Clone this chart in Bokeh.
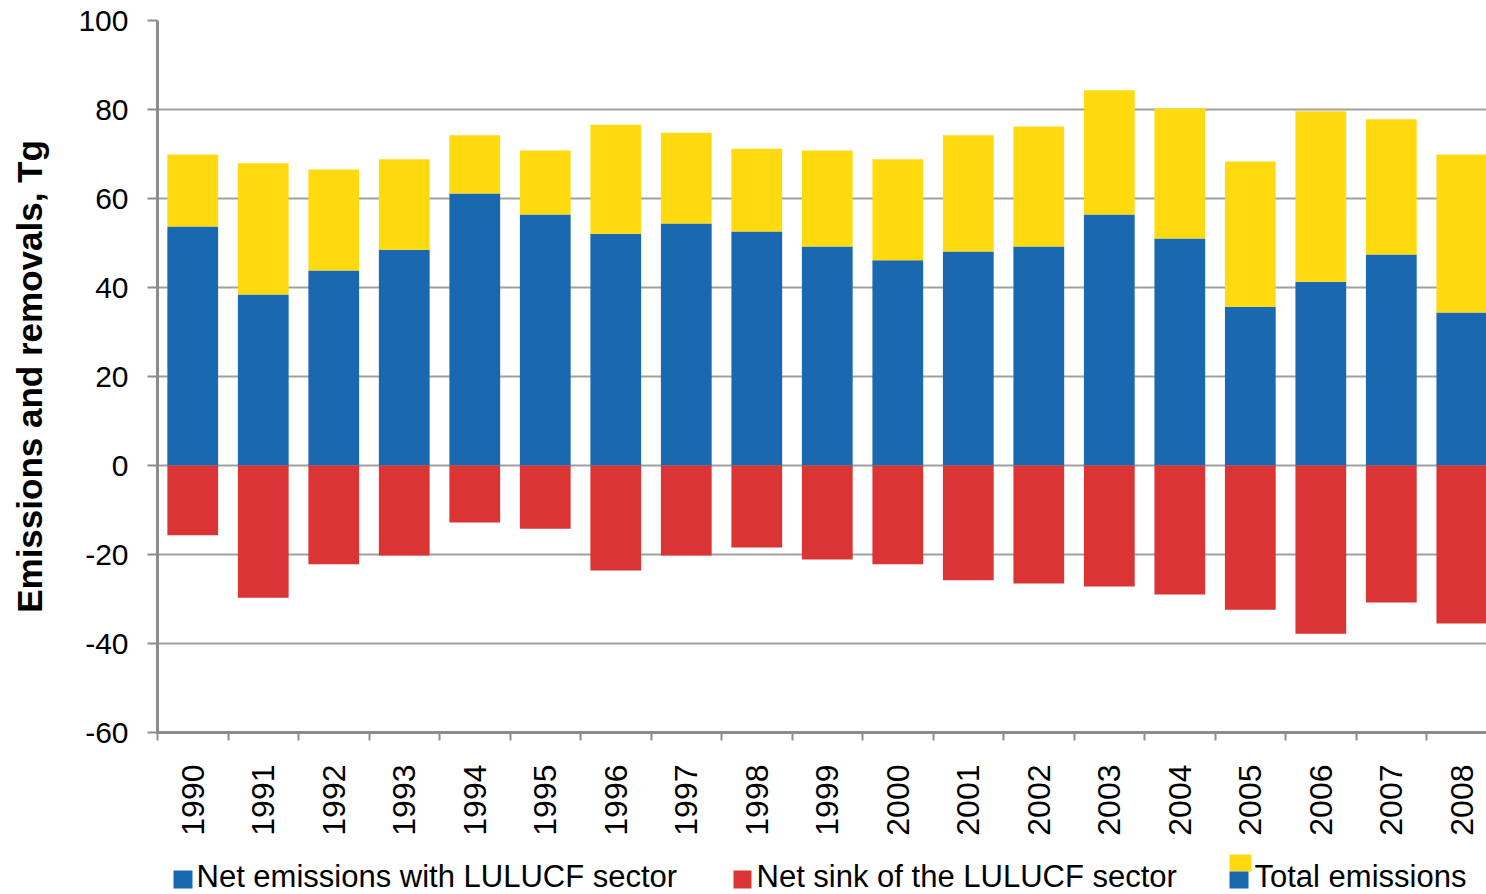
from bokeh.plotting import figure
from bokeh.models import Range1d, FixedTicker, LinearAxis
from bokeh.layouts import column
from bokeh.embed import file_html
from bokeh.resources import INLINE
from bokeh.core.properties import value
import math

# ---------------- data (Tg) ----------------
years = ["1990", "1991", "1992", "1993", "1994", "1995", "1996", "1997", "1998", "1999",
         "2000", "2001", "2002", "2003", "2004", "2005", "2006", "2007", "2008"]
total_emissions = [69.9, 67.9, 66.5, 68.8, 74.2, 70.8, 76.6, 74.8, 71.2, 70.8,
                   68.8, 74.2, 76.2, 84.3, 80.2, 68.3, 79.6, 77.8, 69.9]
net_emissions = [53.7, 38.4, 43.8, 48.5, 61.1, 56.4, 52.1, 54.4, 52.6, 49.2,
                 46.1, 48.1, 49.2, 56.4, 51.0, 35.7, 41.3, 47.4, 34.4]
net_sink = [-15.7, -29.7, -22.2, -20.2, -12.8, -14.2, -23.6, -20.2, -18.4, -21.1,
            -22.2, -25.8, -26.5, -27.2, -29.0, -32.4, -37.8, -30.8, -35.5]
y_ticks = [-60, -40, -20, 0, 20, 40, 60, 80, 100]
y_label = "Emissions and removals, Tg"
legend_labels = ["Net emissions with LULUCF sector", "Net sink of the LULUCF sector", "Total emissions"]

BLUE = "#1a69b0"
YELLOW = "#ffda0f"
RED = "#db3434"
GRID = "#a0a0a0"
AXIS = "#8c8c8c"
FONT = "Liberation Sans"

centers = [i + 0.5 for i in range(len(years))]
bar_w = 0.72

# ---------------- main chart ----------------
p = figure(width=1486, height=846, output_backend="svg", toolbar_location=None,
           x_range=Range1d(0, 18.85), y_range=Range1d(-60, 100),
           min_border_left=157, min_border_right=0, min_border_top=20, min_border_bottom=114,
           x_axis_location=None, y_axis_location=None)
p.outline_line_color = None
p.background_fill_color = "white"

# bars
p.vbar(x=centers, width=bar_w, bottom=0, top=net_emissions, fill_color=BLUE, line_color=None)
p.vbar(x=centers, width=bar_w, bottom=net_emissions, top=total_emissions, fill_color=YELLOW, line_color=None)
p.vbar(x=centers, width=bar_w, bottom=net_sink, top=0, fill_color=RED, line_color=None)

# y axis
yax = LinearAxis(ticker=FixedTicker(ticks=y_ticks))
yax.major_label_overrides = {t: str(t) for t in y_ticks}
yax.axis_label = y_label
yax.axis_label_text_font = FONT
yax.axis_label_text_font_style = "bold"
yax.axis_label_text_font_size = "35px"
yax.axis_label_text_color = "black"
yax.axis_label_standoff = 26
yax.major_label_text_font = FONT
yax.major_label_text_font_size = "30px"
yax.major_label_text_color = "black"
yax.major_label_standoff = 19
yax.axis_line_color = AXIS
yax.axis_line_width = 3
yax.major_tick_line_color = AXIS
yax.major_tick_line_width = 2
yax.major_tick_out = 10
yax.major_tick_in = 0
yax.minor_tick_line_color = None
p.add_layout(yax, "left")

# x axis
xax = LinearAxis(ticker=FixedTicker(ticks=centers, minor_ticks=list(range(len(years) + 1))))
xax.major_label_overrides = {c: y for c, y in zip(centers, years)}
xax.major_label_orientation = math.pi / 2
xax.major_label_text_font = FONT
xax.major_label_text_font_size = "32px"
xax.major_label_text_color = "black"
xax.major_label_standoff = 24
xax.axis_line_color = AXIS
xax.axis_line_width = 3
xax.major_tick_line_color = None
xax.major_tick_out = 0
xax.major_tick_in = 0
xax.minor_tick_line_color = AXIS
xax.minor_tick_line_width = 2
xax.minor_tick_out = 8
xax.minor_tick_in = 0
p.add_layout(xax, "below")

p.xgrid.visible = False
p.ygrid.ticker = FixedTicker(ticks=y_ticks)
p.ygrid.grid_line_color = GRID
p.ygrid.grid_line_width = 2

# ---------------- legend strip (page pixel coordinates, frame aligned with chart frame) ----------------
leg = figure(width=1486, height=48, output_backend="svg", toolbar_location=None,
             x_range=Range1d(157, 1486), y_range=Range1d(894, 846),
             min_border_left=157, min_border_right=0, min_border_top=0, min_border_bottom=0,
             x_axis_location=None, y_axis_location=None)
leg.outline_line_color = None
leg.grid.visible = False

leg.quad(left=[173], right=[192], top=[870], bottom=[888], fill_color=BLUE, line_color=None)
leg.quad(left=[733], right=[751], top=[870], bottom=[888], fill_color=RED, line_color=None)
leg.quad(left=[1229], right=[1251], top=[854], bottom=[871], fill_color=YELLOW, line_color=None)
leg.quad(left=[1229], right=[1248], top=[871], bottom=[888], fill_color=BLUE, line_color=None)
leg.text(x=[196, 756, 1254], y=[876] * 3, text=legend_labels,
         text_font=value(FONT), text_font_size="31px", text_color="black",
         text_baseline="alphabetic", text_align="left")

layout = column(p, leg, spacing=0)
open("out.html", "w").write(file_html(layout, INLINE))
